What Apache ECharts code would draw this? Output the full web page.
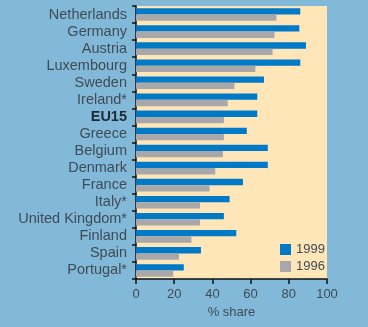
<!DOCTYPE html>
<html>
<head>
<meta charset="utf-8">
<style>
  html, body { margin: 0; padding: 0; background: #82b9d9; }
  #chart { width: 368px; height: 327px; }
</style>
<script src="https://cdn.jsdelivr.net/npm/echarts@6/dist/echarts.min.js"></script>
</head>
<body>
<div id="chart"></div>
<script>
// Countries, top to bottom
const countries = [
  'Netherlands', 'Germany', 'Austria', 'Luxembourg', 'Sweden', 'Ireland*',
  'EU15', 'Greece', 'Belgium', 'Denmark', 'France', 'Italy*',
  'United Kingdom*', 'Finland', 'Spain', 'Portugal*'
];
// Share (%) per country
const share1999 = [86, 85.5, 89, 86, 67, 63.5, 63.5, 58, 69, 69, 56, 49, 46, 52.5, 34, 25];
const share1996 = [73.5, 72.5, 71.5, 62.5, 51.5, 48, 46, 46, 45.5, 41.5, 38.5, 33.5, 33.5, 29, 22.5, 19.5];
const xTicks = { min: 0, max: 100, interval: 20 };

const chart = echarts.init(document.getElementById('chart'), null, { renderer: 'canvas' });
const textColor = '#3f4b56';
const font = 'Liberation Sans';

chart.setOption({
  backgroundColor: '#82b9d9',
  animation: false,
  textStyle: { fontFamily: font },
  grid: { left: 136, right: 41, top: 6, bottom: 48, containLabel: false,
          show: true, backgroundColor: '#ffe6b9', borderWidth: 0 },
  legend: {
    orient: 'vertical',
    left: 275, top: 238,
    icon: 'rect',
    itemWidth: 11, itemHeight: 11, itemGap: 4,
    textStyle: { color: textColor, fontSize: 13, fontFamily: font },
    data: ['1999', '1996']
  },
  xAxis: {
    type: 'value',
    min: xTicks.min, max: xTicks.max, interval: xTicks.interval,
    name: '% share', nameLocation: 'middle', nameGap: 27,
    nameTextStyle: { color: textColor, fontSize: 13, fontFamily: font },
    axisLine: { show: true, lineStyle: { color: '#111', width: 1.5 } },
    axisTick: { show: true, length: 5, lineStyle: { color: '#111', width: 1.5 } },
    axisLabel: { color: textColor, fontSize: 13, margin: 9, fontFamily: font },
    splitLine: { show: false }
  },
  yAxis: {
    type: 'category',
    data: countries,
    inverse: true,
    axisLine: { show: true, lineStyle: { color: '#111', width: 1.5 } },
    axisTick: { show: true, length: 4, lineStyle: { color: '#111', width: 1.5 } },
    axisLabel: {
      interval: 0,
      color: textColor, fontSize: 14.5, margin: 9, fontFamily: font,
      formatter: v => v === 'EU15' ? '{b|' + v + '}' : v,
      rich: { b: { fontWeight: 'bold', color: '#1e2a33', fontSize: 14.5, fontFamily: font } }
    }
  },
  series: [
    { name: '1999', type: 'bar', data: share1999, barWidth: 6.3, barGap: '0%',
      itemStyle: { color: '#0079c7' } },
    { name: '1996', type: 'bar', data: share1996, barWidth: 6.3, barGap: '0%',
      itemStyle: { color: '#a8a8ab' } }
  ]
});
</script>
</body>
</html>
